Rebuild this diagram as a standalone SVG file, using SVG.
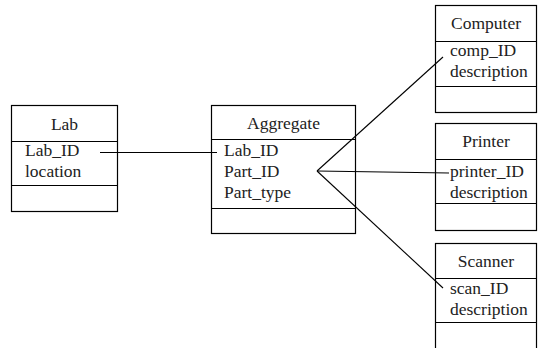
<svg xmlns="http://www.w3.org/2000/svg" width="538" height="348" viewBox="0 0 538 348">
<style>
.box{fill:#fff;stroke:#000;stroke-width:1.2}
.ln{stroke:#000;stroke-width:1.1;fill:none}
.t{font-family:'Liberation Serif','DejaVu Serif',serif;font-size:17.5px;fill:#222}
.c{text-anchor:middle}
</style>
<rect width="538" height="348" fill="#fff"/>
<g id="lab">
<rect class="box" x="11.5" y="105.5" width="106" height="106"/>
<line class="ln" x1="11.5" y1="141.5" x2="117.5" y2="141.5"/>
<line class="ln" x1="11.5" y1="185.5" x2="117.5" y2="185.5"/>
<g class="t" font-family="Liberation Serif, serif">
<text class="c" x="64.5" y="130">Lab</text>
<text x="25" y="156">Lab_ID</text>
<text x="25" y="177">location</text>
</g>
</g>
<g id="aggregate">
<rect class="box" x="211.5" y="105.5" width="144" height="128"/>
<line class="ln" x1="211.5" y1="139.5" x2="355.5" y2="139.5"/>
<line class="ln" x1="211.5" y1="208.5" x2="355.5" y2="208.5"/>
<g class="t" font-family="Liberation Serif, serif">
<text class="c" x="283.5" y="129">Aggregate</text>
<text x="224" y="156">Lab_ID</text>
<text x="224" y="177">Part_ID</text>
<text x="224" y="198">Part_type</text>
</g>
</g>
<g id="computer">
<rect class="box" x="435.5" y="5.5" width="101" height="107"/>
<line class="ln" x1="435.5" y1="41.5" x2="536.5" y2="41.5"/>
<line class="ln" x1="435.5" y1="86.5" x2="536.5" y2="86.5"/>
<g class="t" font-family="Liberation Serif, serif">
<text class="c" x="486" y="29">Computer</text>
<text x="450" y="56">comp_ID</text>
<text x="450" y="77">description</text>
</g>
</g>
<g id="printer">
<rect class="box" x="435.5" y="123.5" width="101" height="107"/>
<line class="ln" x1="435.5" y1="159.5" x2="536.5" y2="159.5"/>
<line class="ln" x1="435.5" y1="203.5" x2="536.5" y2="203.5"/>
<g class="t" font-family="Liberation Serif, serif">
<text class="c" x="486" y="147">Printer</text>
<text x="450" y="177">printer_ID</text>
<text x="450" y="198">description</text>
</g>
</g>
<g id="scanner">
<rect class="box" x="435.5" y="243.5" width="101" height="110"/>
<line class="ln" x1="435.5" y1="278.5" x2="536.5" y2="278.5"/>
<line class="ln" x1="435.5" y1="322.5" x2="536.5" y2="322.5"/>
<g class="t" font-family="Liberation Serif, serif">
<text class="c" x="486" y="267">Scanner</text>
<text x="450" y="294">scan_ID</text>
<text x="450" y="315">description</text>
</g>
</g>
<g id="connectors">
<line class="ln" x1="100" y1="152.5" x2="217" y2="152.5"/>
<line class="ln" x1="317" y1="171" x2="443" y2="57"/>
<line class="ln" x1="317" y1="171" x2="449" y2="173"/>
<line class="ln" x1="317" y1="171" x2="443" y2="288"/>
</g>
</svg>
